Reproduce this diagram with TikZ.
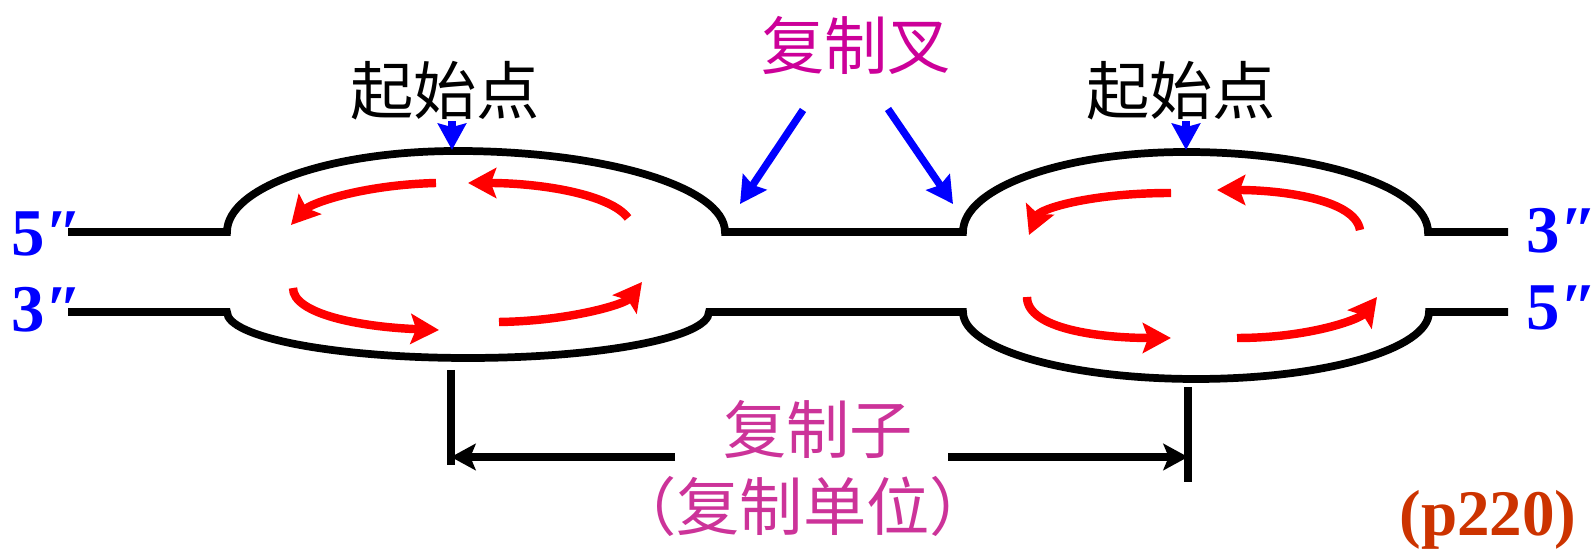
\documentclass[tikz,border=0pt]{standalone}
\usepackage{fontspec}
\setmainfont{Liberation Serif}
\newfontfamily\cjk{Noto Sans CJK SC}
\usepackage{tikz}
\usetikzlibrary{arrows.meta}
\usetikzlibrary{positioning}

\definecolor{forkpink}{RGB}{204,0,153}
\definecolor{reppink}{RGB}{204,51,153}
\definecolor{pagered}{RGB}{204,51,0}

\begin{document}
\begin{tikzpicture}[x=0.01cm, y=0.01cm,
strand/.style={line width=2.2pt},
endlabel/.style={text=blue, inner sep=0pt, font=\bfseries\fontsize{19}{19}\selectfont},
cjklabel/.style={inner sep=0pt, font=\cjk\fontsize{18}{18}\selectfont},
pointer/.style={blue, line width=2.1pt, -{Stealth[length=7.5pt, width=8pt, inset=1pt]}},
growth/.style={red, line width=2.4pt, -{Stealth[length=8pt, width=8.5pt, inset=1.5pt]}},
dimline/.style={line width=2.1pt},
dimarrow/.style={line width=2.1pt, -{Stealth[length=7pt, width=7.5pt, inset=1.5pt]}}]
\useasboundingbox (0,0) rectangle (1596,549);

% parent strands with two bubbles
\draw[strand] (68,317) -- (227,317)
  arc[start angle=180, end angle=90, x radius=230, y radius=81]
  arc[start angle=90, end angle=0, x radius=268, y radius=81]
  -- (963,317)
  arc[start angle=180, end angle=90, x radius=223, y radius=80]
  arc[start angle=90, end angle=0, x radius=242, y radius=80]
  -- (1508,317);
\draw[strand] (68,237) -- (227,237)
  arc[start angle=180, end angle=360, x radius=241, y radius=46]
  -- (963,237)
  arc[start angle=180, end angle=360, x radius=233, y radius=67]
  -- (1508,237);

% strand ends
\node[endlabel] (l5) at (47,315) {5″};
\node[endlabel] (l3) at (47,239) {3″};
\node[endlabel] (r3) at (1562,318) {3″};
\node[endlabel] (r5) at (1562,241) {5″};

% origins
\node[cjklabel] (ori1) at (445,458) {起始点};
\node[cjklabel] (ori2) at (1181,458) {起始点};
\coordinate (top1) at (452,399);
\coordinate (top2) at (1186,399);
\draw[pointer] (ori1.south -| top1) -- (top1);
\draw[pointer] (ori2.south -| top2) -- (top2);

% replication forks
\node[cjklabel, text=forkpink] (fork) at (856,504) {复制叉};
\coordinate (fa) at (803,439);
\coordinate (fb) at (740,345);
\coordinate (fc) at (888,440);
\coordinate (fd) at (953,345);
\draw[pointer] (fa) -- (fb);
\draw[pointer] (fc) -- (fd);

% growth directions, left bubble
\draw[growth] (436,366) .. controls (360,364) and (310,345) .. (291,324);
\draw[growth] (628,331) .. controls (610,355) and (540,366) .. (468,366);
\draw[growth] (293,261) .. controls (293,235) and (360,222) .. (439,219);
\draw[growth] (499,227) .. controls (570,228) and (625,245) .. (642,267);
% growth directions, right bubble
\draw[growth] (1171,356) .. controls (1090,356) and (1040,340) .. (1029,314);
\draw[growth] (1360,319) .. controls (1355,350) and (1280,359) .. (1217,359);
\draw[growth] (1027,252) .. controls (1027,220) and (1100,211) .. (1171,211);
\draw[growth] (1237,211) .. controls (1310,211) and (1360,230) .. (1377,252);

% replicon span
\node[cjklabel, text=reppink] (rep) at (818,120) {复制子};
\node[cjklabel, text=reppink] (unit) at (803,43) {（复制单位）};
\coordinate (ra) at (451,92);
\coordinate (rb) at (1188,92);
\draw[dimline] (451,179) -- (451,84);
\draw[dimline] (1188,162) -- (1188,67);
\draw[dimarrow] (675,92) -- (ra);
\draw[dimarrow] (948,92) -- (rb);

\node[inner sep=0pt, text=pagered, font=\bfseries\fontsize{18.5}{18.5}\selectfont] (page) at (1488,29) {(p220)};
				\end{tikzpicture}
\end{document}
